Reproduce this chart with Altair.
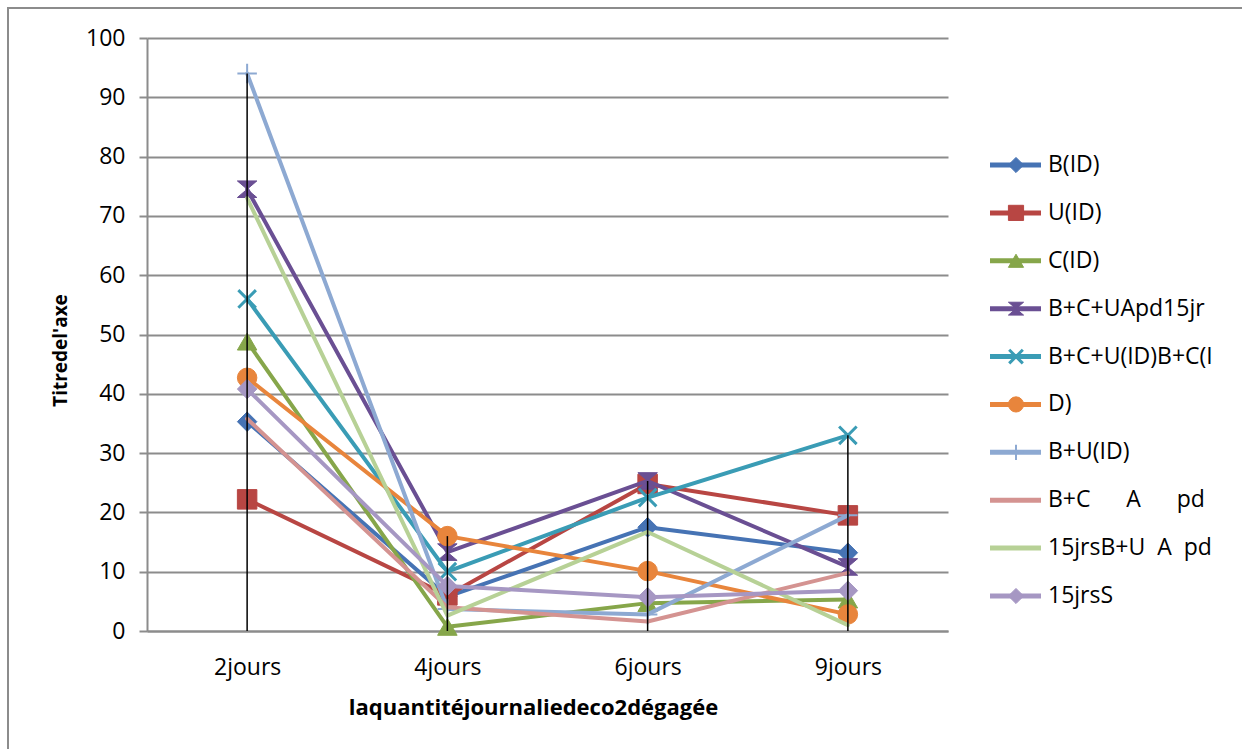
import altair as alt
import pandas as pd

# Sampling days on the category axis
categories = ["2jours", "4jours", "6jours", "9jours"]

# Daily CO2 released for each treatment
b_id = [35.3, 5.8, 17.5, 13.2]
u_id = [22.2, 6.0, 24.8, 19.5]
c_id = [48.8, 0.7, 4.7, 5.3]
bcu_apd15 = [74.5, 13.3, 25.3, 10.8]
bcu_id_bc = [56.0, 10.0, 22.5, 33.0]
d_close = [42.7, 16.0, 10.1, 2.8]
bu_id = [94.0, 3.7, 2.8, 19.5]
bc_apd = [35.8, 4.0, 1.6, 9.8]
jrs15_bu_apd = [73.0, 2.6, 16.7, 1.0]
jrs15_s = [40.8, 7.6, 5.7, 6.8]

NB = "\u00a0"
series_names = [
    "B(ID)",
    "U(ID)",
    "C(ID)",
    "B+C+UApd15jr",
    "B+C+U(ID)B+C(I",
    "D)",
    "B+U(ID)",
    "B+C" + NB * 6 + "A" + NB * 6 + "pd",
    "15jrsB+U" + NB * 2 + "A" + NB * 2 + "pd",
    "15jrsS",
]
series_values = [b_id, u_id, c_id, bcu_apd15, bcu_id_bc, d_close, bu_id, bc_apd, jrs15_bu_apd, jrs15_s]

colors = ["#4673B4", "#B84643", "#86A64A", "#6A4F93", "#3A9CB5",
          "#E8853C", "#8DA9D2", "#D49391", "#B7D196", "#A697C3"]

HOURGLASS = "M-1,-0.85L1,-0.85L-1,0.85L1,0.85Z"
XMARK = "M-0.9,-0.9L0.9,0.9M0.9,-0.9L-0.9,0.9"
PLUS = "M-1,0L1,0M0,-1L0,1"

# (shape, filled, stroke width) for each series marker
markers = [
    ("diamond", True, 1),
    ("square", True, 1),
    ("triangle-up", True, 1),
    (HOURGLASS, True, 1),
    (XMARK, False, 3),
    ("circle", True, 1),
    (PLUS, False, 2),
    None,
    None,
    ("diamond", True, 1),
]

rows = []
for name, vals in zip(series_names, series_values):
    for cat, v in zip(categories, vals):
        rows.append({"serie": name, "jour": cat, "valeur": v})
df = pd.DataFrame(rows)

GRID = "#8c8c8c"
FONT = "Open Sans"

x_enc = alt.X(
    "jour:N",
    sort=categories,
    scale=alt.Scale(type="point", domain=categories, padding=0.5),
    axis=alt.Axis(
        tickSize=0, domainColor=GRID, domainWidth=2, labelPadding=25,
        labelAngle=0, grid=False,
        title="laquantitéjournaliedeco2dégagée", titleFontSize=22,
        titleX=386, titleY=76, titleBaseline="middle",
    ),
)
y_axis = alt.Axis(
    values=list(range(0, 101, 10)), tickSize=8, tickColor=GRID, tickWidth=2,
    domainColor=GRID, domainWidth=2, gridColor=GRID, gridWidth=2,
    labelPadding=14, title="Titredel'axe", titleFontSize=19, titleX=-77, titleY=312,
)
y_scale = alt.Scale(domain=[0, 100], nice=False)

main_layers = []

# outer chart frame
frame = alt.Chart(pd.DataFrame({"k": [0]})).mark_rect(
    fillOpacity=0, stroke=GRID, strokeWidth=2
).encode(x=alt.value(-139), x2=alt.value(1103), y=alt.value(-30), y2=alt.value(722))
main_layers.append(frame)

for name, col, mk in zip(series_names, colors, markers):
    sub = df[df["serie"] == name]
    base = alt.Chart(sub)
    main_layers.append(
        base.mark_line(color=col, strokeWidth=4, strokeJoin="round", strokeCap="round").encode(
            x=x_enc, y=alt.Y("valeur:Q", scale=y_scale, axis=y_axis)
        )
    )
    if mk is not None:
        shape, filled, sw = mk
        props = dict(shape=shape, size=380, filled=filled, opacity=1)
        if filled:
            props.update(fill=col, stroke=col, strokeWidth=sw)
        else:
            props.update(stroke=col, strokeWidth=sw)
        main_layers.append(
            base.mark_point(**props).encode(
                x=x_enc, y=alt.Y("valeur:Q", scale=y_scale, axis=y_axis)
            )
        )

# drop lines from the highest value of each day down to the axis
drops = alt.Chart(df).transform_aggregate(
    maxv="max(valeur)", groupby=["jour"]
).mark_rule(color="black", strokeWidth=1.5).encode(
    x=x_enc,
    y=alt.Y("maxv:Q", scale=y_scale, axis=y_axis),
    y2=alt.datum(0),
)
main_layers.append(drops)

main = alt.layer(*main_layers)

# legend entries
leg_y = alt.Y(
    "serie:N", sort=series_names,
    scale=alt.Scale(type="point", domain=series_names, range=[127, 558], padding=0),
    axis=None,
)
legend_layers = []
for name, col, mk in zip(series_names, colors, markers):
    one = alt.Chart(pd.DataFrame({"serie": [name]}))
    legend_layers.append(
        one.mark_rule(color=col, strokeWidth=5).encode(
            x=alt.value(843), x2=alt.value(894), y=leg_y
        )
    )
    if mk is not None:
        shape, filled, sw = mk
        props = dict(shape=shape, size=230, filled=filled, opacity=1)
        if filled:
            props.update(fill=col, stroke=col, strokeWidth=sw)
        else:
            props.update(stroke=col, strokeWidth=sw)
        legend_layers.append(one.mark_point(**props).encode(x=alt.value(869), y=leg_y))
    legend_layers.append(
        one.mark_text(align="left", baseline="middle", font=FONT, fontSize=23, color="black").encode(
            x=alt.value(901), y=leg_y, text="serie:N"
        )
    )
legend = alt.layer(*legend_layers)

chart = alt.layer(main, legend).resolve_scale(y="independent").properties(
    width=801, height=593,
    autosize=alt.AutoSizeParams(type="none"),
    padding={"left": 147, "top": 38, "right": 294, "bottom": 118},
    background="white",
).configure_view(stroke=None).configure_axis(
    labelFont=FONT, labelFontSize=23, labelColor="black",
    titleFont=FONT, titleFontWeight="bold", titleColor="black",
)

chart.save("out.html", embed_options={"renderer": "svg", "actions": False})
